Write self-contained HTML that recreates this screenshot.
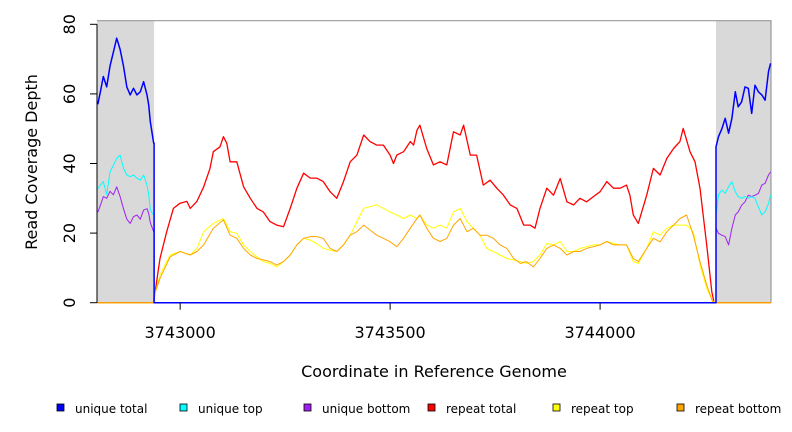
<!DOCTYPE html>
<html><head><meta charset="utf-8"><style>
html,body{margin:0;padding:0;background:#fff;}
svg{display:block;font-family:"DejaVu Sans","Liberation Sans",sans-serif;}
</style></head><body>
<svg id="chart" width="792" height="432" viewBox="0 0 792 432">
  <rect x="0" y="0" width="792" height="432" fill="#fff"/>
  <g id="plot"></g>
  <g id="axes"></g>
  <text x="0" y="0" transform="translate(37,162) rotate(-90)" text-anchor="middle" font-size="16">Read Coverage Depth</text>
  <text x="434" y="377" text-anchor="middle" font-size="16">Coordinate in Reference Genome</text>
  <g id="legend"></g>
</svg>
<script>
// ---- data ----
const regionLeftEnd = 3742938;
const regionRightStart = 3744276;
const xTicks = [3743000, 3743500, 3744000];
const yTicks = [0, 20, 40, 60, 80];

const leftX = [3742804,3742810,3742817,3742825,3742833,3742841,3742849,3742857,3742865,3742873,3742881,3742889,3742897,3742905,3742913,3742921,3742925,3742929,3742937];
const leftUniqueTotal = [57,60.6,65,62,68,72,76,72.8,68,62,59.7,61.6,59.7,60.6,63.5,59.7,56.8,52,45.8];
const leftUniqueTop = [32.8,33.8,34.8,31,37.6,39.5,41.5,42.4,38.6,36.7,36.2,36.7,35.8,35.2,36.7,33.8,31,26.6,25.2];
const leftUniqueBottom = [26,28,30.5,30,32,31,33.3,30.5,27,24,22.8,24.7,25.2,24,26.6,27,25.6,23,20.4];

const rightX = [3744276,3744282,3744290,3744298,3744306,3744314,3744322,3744329,3744337,3744345,3744353,3744361,3744369,3744377,3744385,3744393,3744401,3744406];
const rightUniqueTotal = [44.8,47.7,50,53,48.7,53,60.6,56.3,57.7,62,61.6,54.4,62.5,60.6,59.7,58.2,66.4,68.8];
const rightUniqueTop = [25.2,31,32.4,31.4,33.3,34.8,31.9,30.5,30,30.5,30,30.5,30,27.5,25.2,26.1,28.5,30.9];
const rightUniqueBottom = [21.4,19.9,19.4,19,16.6,21.4,25.2,26.1,28,29,30.9,30.5,30.9,31.4,33.8,34.3,36.7,37.6];

const redX = [3742937,3742944,3742952,3742968,3742984,3743000,3743016,3743024,3743040,3743056,3743071,3743079,3743095,3743103,3743111,3743119,3743135,3743151,3743167,3743183,3743198,3743214,3743230,3743246,3743262,3743278,3743294,3743310,3743325,3743341,3743357,3743373,3743389,3743405,3743421,3743437,3743452,3743468,3743484,3743500,3743508,3743516,3743532,3743548,3743556,3743564,3743571,3743587,3743603,3743619,3743635,3743651,3743667,3743675,3743691,3743706,3743722,3743738,3743754,3743770,3743786,3743802,3743818,3743833,3743845,3743857,3743873,3743889,3743905,3743921,3743937,3743952,3743968,3743984,3744000,3744016,3744032,3744048,3744063,3744071,3744079,3744091,3744111,3744127,3744143,3744159,3744175,3744190,3744198,3744214,3744226,3744238,3744254,3744266,3744271];
const repeatTotal = [0.3,6,12.7,20.4,27.1,28.6,29.1,27.1,29.1,33.3,38.6,43.4,44.8,47.7,45.8,40.5,40.5,33.3,30,27.1,26.1,23.3,22.3,21.8,27.1,32.9,37.2,35.8,35.8,34.8,31.9,30,34.8,40.5,42.4,48.2,46.3,45.3,45.3,42.4,40,42.4,43.4,46.3,45.3,49.6,51,44.3,39.6,40.5,39.6,49.1,48.2,51,42.4,42.4,33.8,35.2,32.9,30.9,28.1,27.1,22.3,22.3,21.4,27.1,32.9,30.9,35.7,29,28.1,30,29,30.5,31.9,34.8,32.9,32.9,33.8,30.9,25.2,22.8,30.9,38.6,36.7,41.5,44.3,46.3,50.1,43.4,40.5,32.9,16.6,3.2,0.3];

const ybX = [3742937,3742952,3742976,3743000,3743024,3743040,3743056,3743079,3743103,3743119,3743135,3743151,3743167,3743183,3743198,3743214,3743230,3743246,3743262,3743278,3743294,3743310,3743325,3743341,3743357,3743373,3743389,3743405,3743421,3743437,3743452,3743468,3743484,3743500,3743516,3743532,3743548,3743564,3743571,3743587,3743603,3743619,3743635,3743651,3743667,3743683,3743698,3743714,3743730,3743746,3743762,3743778,3743794,3743810,3743825,3743841,3743857,3743873,3743889,3743905,3743921,3743937,3743952,3743968,3743984,3744000,3744016,3744032,3744048,3744063,3744079,3744091,3744111,3744127,3744143,3744159,3744175,3744190,3744206,3744222,3744238,3744254,3744268];
const repeatTop = [1.2,8,13.7,14.7,13.7,15.6,20.4,22.8,24.2,20.4,19.9,16.6,14.7,13.2,11.8,11.3,10.3,11.8,13.7,16.6,18.5,18,17,15.6,15.1,14.7,16.6,19.4,23.3,27.1,27.6,28.1,27.1,26.1,25.2,24.2,25.2,24.2,25.2,22.3,21.4,22.3,21.4,26.1,27.1,23.3,21.4,19.4,15.6,14.7,13.7,12.7,12.3,11.8,11.3,11.8,13.7,17,16.6,17.6,14.7,14.7,15.6,16.1,16.6,16.6,17.6,17,16.6,16.6,11.8,11.3,15.6,20.4,19.4,21.4,22.3,22.3,22.3,20.4,10.8,4.1,0.5];
const repeatBottom = [1.7,7,13.2,14.7,13.7,14.7,16.6,21.4,23.8,19.4,18.5,15.6,13.7,12.7,12.3,11.8,10.8,11.8,13.7,16.6,18.5,19,19,18.5,15.6,14.7,16.6,19.4,20.4,22.3,20.9,19.4,18.5,17.5,16.1,18.5,21.4,24.2,25.2,21.4,18.5,17.6,18.5,22.3,24.2,20.4,21.4,19.4,19.4,18.5,16.6,15.6,12.7,11.3,11.8,10.3,12.7,15.6,16.6,15.6,13.7,14.7,14.7,15.6,16.1,16.6,17.6,16.6,16.6,16.6,12.7,11.8,15.6,18.5,17.5,20.4,22.3,24.2,25.2,19.4,11.8,5.1,0.3];

// ---- scales ----
const X0 = 97, X1 = 771, xMin = 3742802, xMax = 3744407;
const Y0 = 302.7, pxPerUnit = 3.48;
const sx = v => X0 + (v - xMin) * (X1 - X0) / (xMax - xMin);
const sy = v => Y0 - v * pxPerUnit;
const NS = 'http://www.w3.org/2000/svg';
const plot = document.getElementById('plot');
const axes = document.getElementById('axes');
const legend = document.getElementById('legend');

function mk(tag, attrs, parent) {
  const e = document.createElementNS(NS, tag);
  for (const k in attrs) e.setAttribute(k, attrs[k]);
  parent.appendChild(e);
  return e;
}

let r1 = mk('rect', {x: X0, y: 20.7, width: sx(regionLeftEnd) - X0, height: Y0 - 20.7, fill: '#d9d9d9'}, plot);


let r2 = mk('rect', {x: sx(regionRightStart), y: 20.7, width: X1 - sx(regionRightStart), height: Y0 - 20.7, fill: '#d9d9d9'}, plot);



let fr = mk('path', {d: `M${X0},20.7 H${X1} V${Y0}`, fill: 'none', stroke: '#999', 'stroke-width': 1.2}, plot);



function line(xs, ys, color, w, name) {
  const d = xs.map((x, i) => (i ? 'L' : 'M') + sx(x).toFixed(1) + ',' + sy(ys[i]).toFixed(1)).join(' ');
  const p = mk('path', {d: d, fill: 'none', stroke: color, 'stroke-width': w, 'stroke-linejoin': 'round'}, plot);
  
  
}
function uniq(lv, rv, color, w, name) {
  const xs = leftX.concat([regionLeftEnd, regionLeftEnd, regionRightStart], rightX);
  const ys = lv.concat([lv[lv.length - 1], 0, 0], rv);
  line(xs, ys, color, w, name);
}
function rep(xs, vs, color, w, name) {
  line([xMin, xs[0] - 1].concat(xs, [regionRightStart, xMax]), [0, 0].concat(vs, [0, 0]), color, w, name);
}
rep(redX, repeatTotal, '#ff0000', 1.3, 'repeat-total-line');
rep(ybX, repeatTop, '#ffff00', 1, 'repeat-top-line');
rep(ybX, repeatBottom, '#ffa500', 1, 'repeat-bottom-line');
uniq(leftUniqueBottom, rightUniqueBottom, '#a020f0', 1, 'unique-bottom-line');
uniq(leftUniqueTop, rightUniqueTop, '#00ffff', 1, 'unique-top-line');
uniq(leftUniqueTotal, rightUniqueTotal, '#0000ff', 1.5, 'unique-total-line');

let ya = mk('line', {x1: X0, y1: sy(0), x2: X0, y2: sy(80), stroke: '#000', 'stroke-width': 1}, axes);


yTicks.forEach(v => {
  const t = mk('line', {x1: X0 - 7, y1: sy(v), x2: X0, y2: sy(v), stroke: '#000'}, axes);
  
  
  const l = mk('text', {transform: `translate(75,${sy(v)}) rotate(-90)`, 'text-anchor': 'middle', 'font-size': 16}, axes);
  l.textContent = v;
  
  
});
xTicks.forEach(v => {
  const t = mk('line', {x1: sx(v), y1: Y0, x2: sx(v), y2: Y0 + 7, stroke: '#000'}, axes);
  
  
  const l = mk('text', {x: sx(v), y: 338, 'text-anchor': 'middle', 'font-size': 16}, axes);
  l.textContent = v;
  
  
});

const legendLabels = ['unique total', 'unique top', 'unique bottom', 'repeat total', 'repeat top', 'repeat bottom'];
const legendColors = ['#0000ff', '#00ffff', '#a020f0', '#ff0000', '#ffff00', '#ffa500'];
const legendX = [57, 180, 304, 428, 553, 677];
legendLabels.forEach((lab, i) => {
  const s = mk('rect', {x: legendX[i], y: 404, width: 7, height: 7, fill: legendColors[i], stroke: '#000', 'stroke-width': 0.8}, legend);
  
  
  const t = mk('text', {x: legendX[i] + 18, y: 413, 'font-size': 12}, legend);
  t.textContent = lab;
  
  
});
</script>
</body></html>
